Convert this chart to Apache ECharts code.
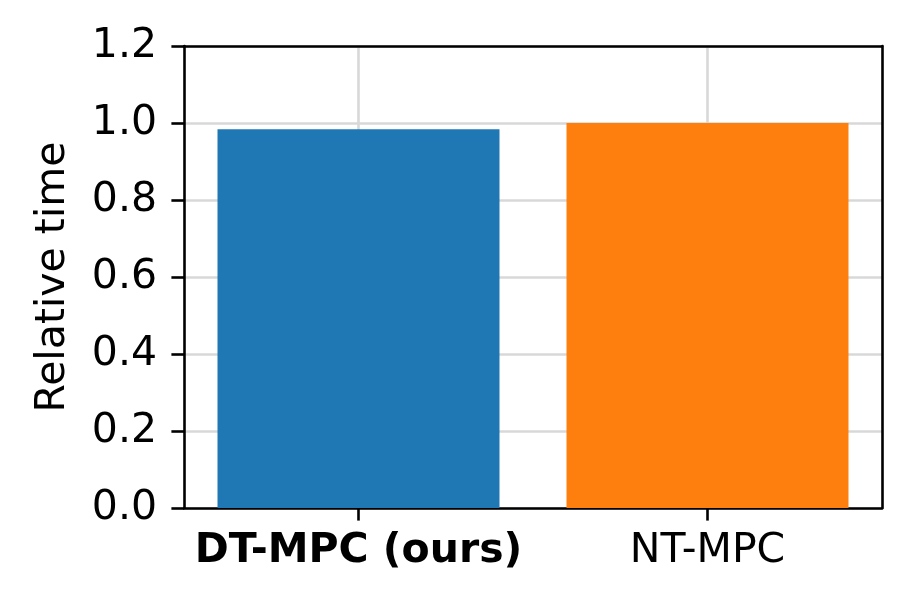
<!DOCTYPE html>
<html>
<head>
<meta charset="utf-8">
<script src="https://cdn.jsdelivr.net/npm/echarts@6/dist/echarts.min.js"></script>
<style>html,body{margin:0;padding:0;background:#fff;}#c{width:911px;height:609px;}</style>
</head>
<body>
<div id="c"></div>
<script>
var categories = ['DT-MPC (ours)', 'NT-MPC'];
var values = [0.984, 1.0];
var colors = ['#1f77b4', '#ff7f0e'];
var yTicks = [0, 0.2, 0.4, 0.6, 0.8, 1.0, 1.2];
var yName = 'Relative time';

var chart = echarts.init(document.getElementById('c'), null, {renderer: 'canvas'});
var FS = 41;
var FONT = 'DejaVu Sans';
var LW = 2.6;
chart.setOption({
  animation: false,
  backgroundColor: '#fff',
  grid: {left: 184, top: 46, right: 29, bottom: 101},
  xAxis: [{
    type: 'category',
    data: categories,
    axisLine: {show: true, onZero: false, lineStyle: {color: '#000', width: LW}},
    axisTick: {show: true, alignWithLabel: true, length: 12.6, lineStyle: {color: '#000', width: LW}},
    axisLabel: {
      interval: 0,
      margin: 23, color: '#000', fontFamily: FONT, fontSize: FS,
      formatter: function (v, i) { return i === 0 ? '{b|' + v + '}' : v; },
      rich: {b: {fontWeight: 'bold', fontFamily: FONT, fontSize: FS, color: '#000'}}
    },
    splitLine: {show: false}
  }, {
    type: 'category',
    position: 'top',
    data: categories,
    z: 5,
    axisLine: {show: true, onZero: false, lineStyle: {color: '#000', width: LW}},
    axisTick: {show: false},
    axisLabel: {show: false},
    splitLine: {show: false}
  }],
  yAxis: [{
    type: 'value',
    min: yTicks[0], max: yTicks[yTicks.length - 1], interval: 0.2,
    name: yName, nameLocation: 'middle', nameGap: 110, nameRotate: 90,
    nameTextStyle: {fontFamily: FONT, fontSize: FS, color: '#000'},
    axisLine: {show: true, onZero: false, lineStyle: {color: '#000', width: LW}},
    axisTick: {show: true, length: 12.6, lineStyle: {color: '#000', width: LW}},
    axisLabel: {margin: 27, color: '#000', fontFamily: FONT, fontSize: FS, formatter: function (v) { return v.toFixed(1); }},
    splitLine: {show: true, lineStyle: {color: '#d8d8d8', width: LW}}
  }, {
    type: 'value',
    position: 'right',
    min: yTicks[0], max: yTicks[yTicks.length - 1], interval: 0.2,
    z: 5,
    axisLine: {show: true, onZero: false, lineStyle: {color: '#000', width: LW}},
    axisTick: {show: false},
    axisLabel: {show: false},
    splitLine: {show: false}
  }],
  series: [
    {
      type: 'bar',
      z: 3,
      barWidth: '80.8%',
      data: values.map(function (v, i) { return {value: v, itemStyle: {color: colors[i]}}; })
    },
    {
      type: 'line',
      data: [],
      z: 1,
      silent: true,
      markLine: {
        z: 1,
        silent: true,
        symbol: ['none', 'none'],
        label: {show: false},
        lineStyle: {color: '#d8d8d8', width: LW, type: 'solid'},
        data: categories.map(function (c) { return {xAxis: c}; })
      }
    }
  ]
});
</script>
</body>
</html>
